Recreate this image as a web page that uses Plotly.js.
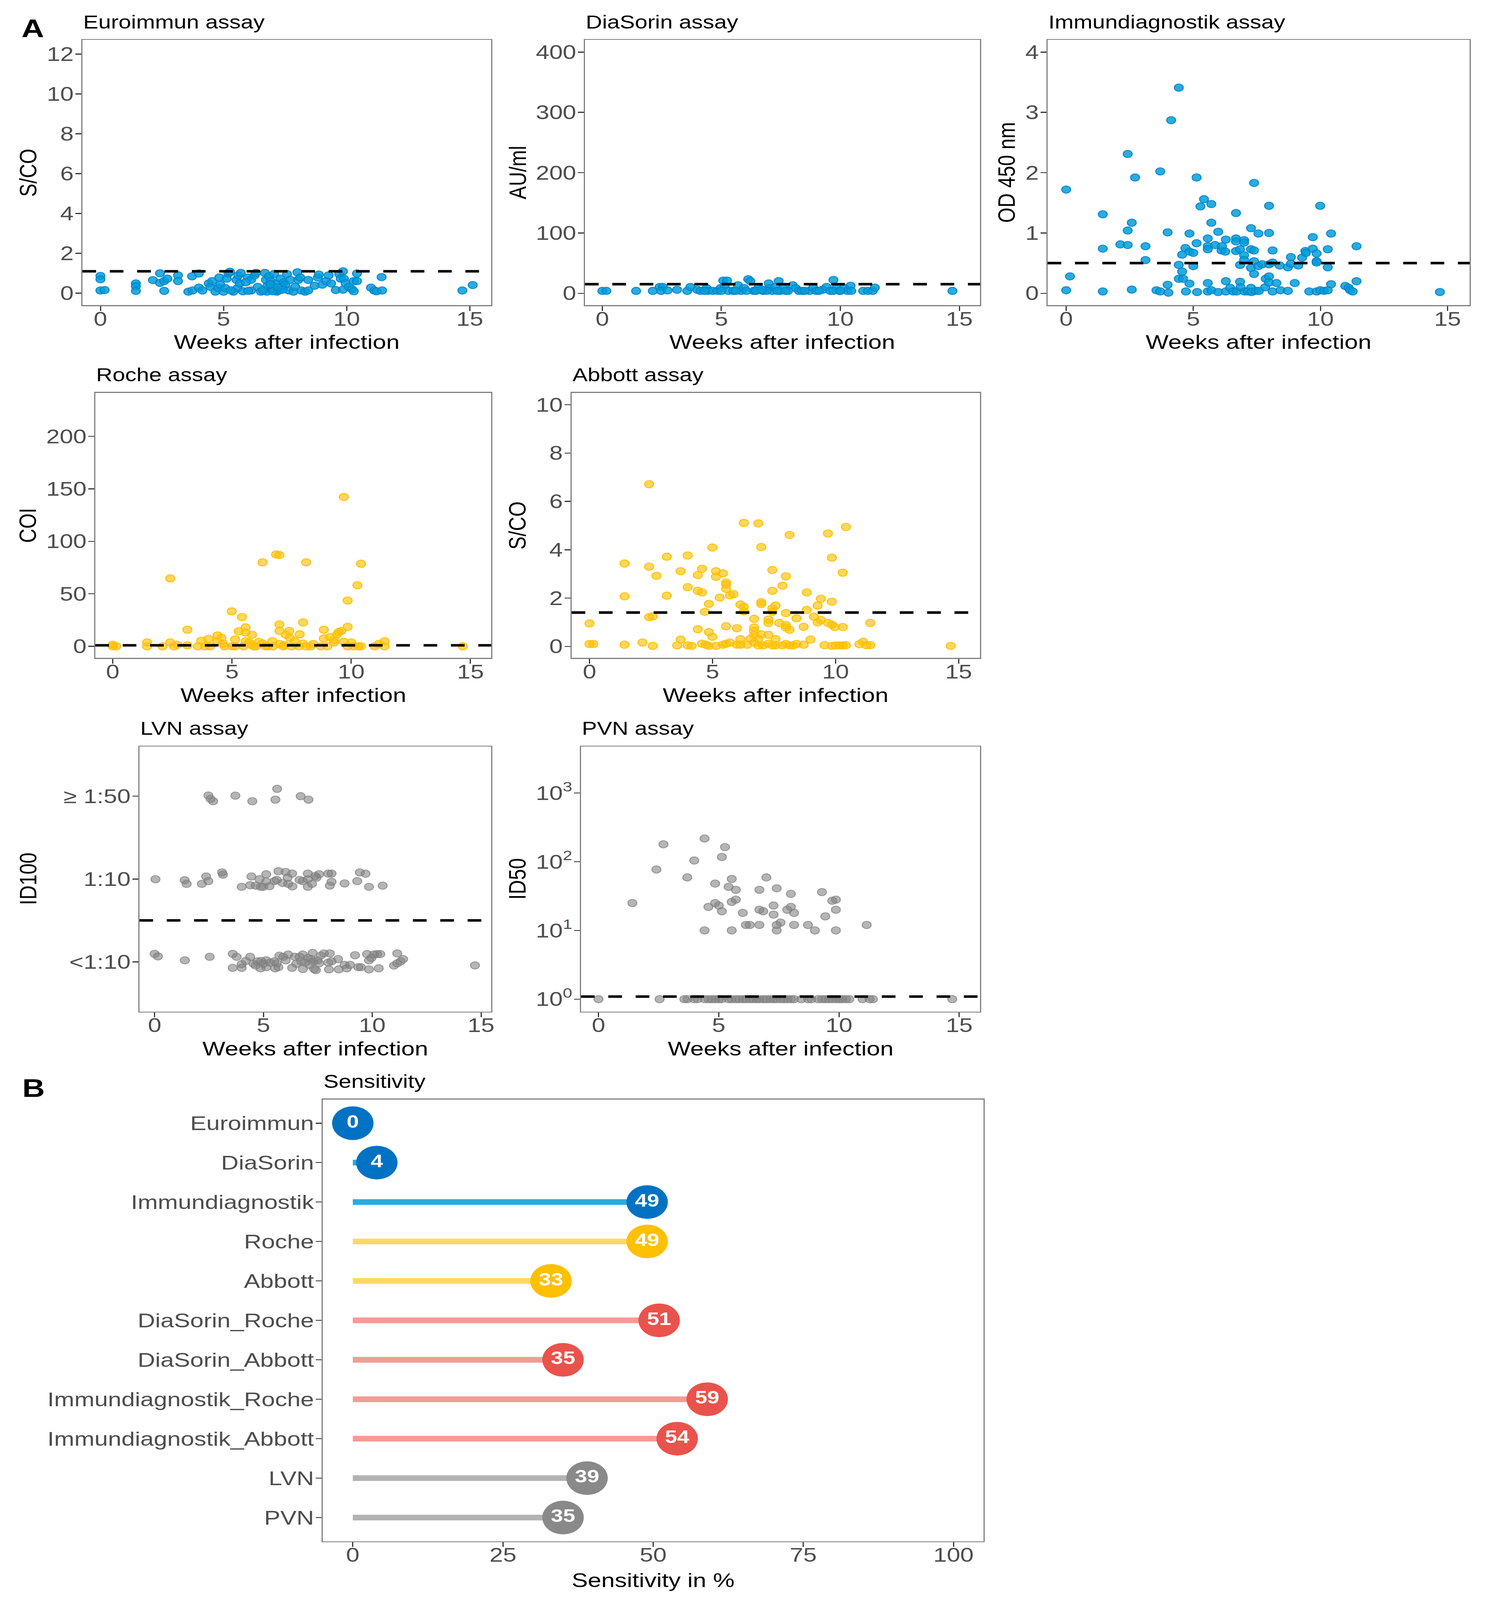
<!DOCTYPE html>
<html><head><meta charset="utf-8">
<script src="https://cdn.plot.ly/plotly-3.0.1.min.js"></script>
<style>html,body{margin:0;padding:0;background:#fff;overflow:hidden}</style>
</head><body><div id="chart" style="width:3808px;height:5036px"></div>
<script>
// ---------------- DATA ----------------
const weekTicks = [0, 5, 10, 15];

const euroWeeks = [0,0,0,0.17,1.44,1.44,1.44,2.13,2.42,2.42,
 2.59,2.72,2.59,3.15,3.15,3.57,3.72,3.74,4.0,4.0,
 4.14,4.4,4.47,4.54,4.67,4.78,4.83,4.87,5.0,5.07,
 5.13,5.2,5.26,5.4,5.53,5.57,5.6,5.66,5.7,5.79,
 5.99,6.12,6.12,6.26,6.32,6.39,6.52,6.68,6.72,6.76,
 6.79,6.85,6.92,6.98,7.05,7.12,7.16,7.25,7.31,7.38,
 7.45,7.51,7.58,7.65,7.71,7.84,7.91,8.0,8.04,8.11,
 8.17,8.31,8.44,8.44,8.7,8.83,8.87,9.01,9.17,9.27,
 9.37,9.56,9.7,9.76,9.85,9.85,9.89,9.96,10.09,10.22,
 10.29,10.29,10.42,10.42,10.99,11.12,11.22,11.42,11.44,14.7,15.12,
 5.3,6.0,6.6,7.0,7.4,5.9,6.9,7.2];
const euroValues = [0.87,0.7,0.14,0.16,0.49,0.35,0.12,0.66,1.0,0.52,
 0.61,0.73,0.12,0.9,0.61,0.08,0.85,0.14,0.99,0.28,
 0.14,0.49,0.32,0.61,0.08,0.26,0.79,0.43,0.08,0.26,
 0.73,0.99,1.08,0.08,0.67,0.26,0.9,0.49,1.02,0.1,
 0.79,0.67,0.14,0.9,1.02,0.32,0.08,1.02,0.67,0.08,
 0.38,0.85,0.61,0.2,0.96,0.49,0.08,0.14,0.73,0.32,
 0.55,0.43,0.96,0.14,0.67,0.08,0.32,1.05,0.67,0.79,
 0.14,0.08,0.14,0.67,0.38,0.79,0.94,0.43,0.61,0.9,
 0.49,0.16,0.96,0.73,1.1,0.18,0.73,0.49,0.32,0.2,
 0.1,0.61,0.99,0.61,0.28,0.14,0.1,0.81,0.14,0.14,0.41,
 0.15,0.12,0.15,0.1,0.18,0.55,0.45,0.3];
const euroCutoff = 1.1;

const diaWeeks = [0,0.17,1.42,2.12,2.41,2.54,2.47,2.74,3.14,3.57,
 3.7,3.99,4.12,4.38,4.45,4.64,4.84,4.97,5.08,5.24,
 5.14,5.3,5.5,5.7,5.83,5.96,6.13,6.22,6.36,6.55,
 6.75,6.99,7.01,7.14,7.28,7.41,7.47,7.61,7.8,8.0,
 8.13,8.26,8.39,8.7,8.86,8.99,9.25,9.42,9.58,9.71,
 9.84,9.97,10.17,10.3,10.43,10.46,10.96,11.16,11.36,11.45,
 14.71,5.6,6.05,6.45,6.9,7.35,7.7,8.5,9.1,9.7,
 4.3,5.0,10.0,6.7];
const diaValues = [3.9,3.9,3.9,3.9,10.5,10.5,3.9,4.7,5.8,3.9,
 10.5,5.8,3.9,8.5,3.9,3.9,3.9,8.5,21,21,
 12.4,3.9,3.9,13.2,3.9,8.5,23.3,20.2,3.9,8.5,
 3.9,16.3,8.5,3.9,10.5,20.2,3.9,8.5,3.9,13.2,
 8.5,3.9,3.9,3.9,9.3,3.9,5.8,10.5,3.9,22.1,
 8.5,3.9,8.5,3.9,12.4,3.9,3.9,3.9,3.9,9.3,
 3.9,3.9,3.9,3.9,3.9,3.9,3.9,3.9,3.9,3.9,
 3.9,3.9,3.9,6.0];
const diaCutoff = 15;

const immWeeks = [0,0,0.15,1.44,1.44,1.44,2.13,2.42,2.42,2.42,
 2.58,2.58,2.71,3.12,3.12,3.55,3.7,3.7,3.99,3.99,
 4.02,4.13,4.43,4.43,4.43,4.56,4.56,4.6,4.69,4.71,
 4.85,4.85,4.85,5.0,5.0,5.13,5.13,5.15,5.28,5.42,
 5.57,5.57,5.57,5.57,5.57,5.71,5.71,5.71,5.86,5.98,
 5.98,6.11,6.13,6.26,6.28,6.28,6.28,6.45,6.57,6.68,
 6.68,6.68,6.68,6.7,6.84,6.84,6.84,6.86,7.0,7.0,
 7.0,7.0,7.02,7.14,7.27,7.27,7.27,7.27,7.29,7.39,
 7.39,7.39,7.39,7.46,7.56,7.56,7.58,7.71,7.83,7.85,
 7.98,7.98,7.98,7.98,7.98,8.12,8.12,8.12,8.27,8.4,
 8.43,8.72,8.72,8.84,8.84,8.99,9.13,9.28,9.41,9.43,
 9.56,9.7,9.7,9.85,9.85,9.85,9.85,9.99,9.99,10.14,
 10.29,10.29,10.29,10.42,10.42,10.98,11.11,11.17,11.27,11.42,
 11.42,14.7];
const immValues = [1.72,0.05,0.28,1.31,0.74,0.03,0.81,2.31,1.04,0.8,
 1.17,0.06,1.92,0.78,0.55,0.05,2.02,0.03,1.01,0.14,
 0.01,2.87,3.41,0.47,0.24,0.36,0.64,0.24,0.75,0.03,
 0.99,0.16,0.69,0.67,0.45,1.92,0.83,0.02,1.44,1.56,
 0.91,0.78,0.73,0.17,0.03,1.48,1.17,0.05,0.8,1.02,
 0.02,0.71,0.78,0.69,0.89,0.2,0.03,0.09,0.03,1.33,
 0.91,0.86,0.7,0.03,0.73,0.47,0.19,0.1,0.88,0.84,
 0.63,0.55,0.03,0.03,1.08,0.73,0.42,0.09,0.02,1.83,
 0.71,0.53,0.32,0.04,0.99,0.45,0.04,0.48,0.1,0.24,
 1.45,1.0,0.48,0.28,0.18,0.71,0.51,0.03,0.17,0.46,
 0.05,0.43,0.04,0.6,0.49,0.17,0.46,0.59,0.7,0.67,
 0.03,0.93,0.74,0.66,0.53,0.51,0.03,1.45,0.05,0.04,
 0.73,0.43,0.05,0.99,0.15,0.12,0.09,0.05,0.03,0.78,
 0.2,0.02];
const immCutoff = 0.5;

const rocheWeeks = [0,0,0.15,1.44,1.44,2.09,2.41,2.41,2.57,2.71,
 3.13,3.13,3.57,3.71,3.87,4.01,4.08,4.39,4.39,4.56,
 4.62,4.69,4.99,5.0,5.13,5.13,5.28,5.42,5.49,5.57,
 5.57,5.57,5.72,5.84,5.92,6.13,6.28,6.28,6.4,6.69,
 6.72,6.85,6.99,6.99,6.99,6.99,7.15,7.26,7.4,7.43,
 7.5,7.63,7.84,7.98,7.98,8.11,8.11,8.41,8.73,8.85,
 8.85,9.11,9.28,9.28,9.41,9.48,9.59,9.69,9.69,9.85,
 9.85,9.85,10.0,10.1,10.26,10.41,10.41,10.98,11.15,11.4,
 11.4,14.68,6.0,6.5,7.8,8.3,9.0,10.3,7.2,5.8];
const rocheValues = [1.5,0,0,3.7,0,0,64.7,3.7,0,1.5,
 15.8,0.9,0,5.3,0,7,0,10.3,4.8,8.1,
 2.6,0,33.3,0,6.6,0,14.3,27.9,0,18,
 13.2,4.8,3.7,11,0,4.2,80,2.6,0,4.8,
 0,87.5,87,20.8,14.7,2.2,0,11,14.7,8.1,
 0,4.8,11.4,22.8,2.6,80,0,2.2,0,15.8,
 7.5,8.8,3.7,5.9,11.4,13.6,14.7,142.3,4.4,43.6,
 18.6,0,3.7,0,58.1,78.7,0,0,2.2,4.8,
 0,0,0,0,0,0,0,0,1.2,1.5];
const rocheCutoff = 1;

const abbottWeeks = [0,0,0.15,1.42,1.42,1.42,2.15,2.42,2.42,2.42,
 2.57,2.57,2.72,3.14,3.14,3.56,3.7,3.7,3.99,3.99,
 3.99,4.15,4.4,4.4,4.4,4.57,4.57,4.57,4.69,4.73,
 4.85,4.85,4.85,4.99,4.99,5.14,5.14,5.14,5.29,5.42,
 5.42,5.55,5.55,5.55,5.55,5.55,5.71,5.71,5.85,5.99,
 5.99,6.13,6.13,6.13,6.27,6.27,6.27,6.41,6.54,6.69,
 6.69,6.69,6.69,6.69,6.86,6.86,6.86,6.98,6.98,6.98,
 6.98,7.05,7.27,7.27,7.27,7.27,7.43,7.43,7.43,7.43,
 7.43,7.56,7.56,7.56,7.71,7.84,7.84,7.98,7.98,7.98,
 7.98,7.98,8.13,8.13,8.13,8.28,8.41,8.41,8.7,8.7,
 8.83,8.83,8.98,9.12,9.27,9.27,9.4,9.4,9.55,9.69,
 9.69,9.85,9.85,9.85,9.85,9.97,10.0,10.17,10.29,10.29,
 10.29,10.42,10.42,10.97,11.12,11.25,11.41,11.41,14.68];
const abbottValues = [0.95,0.1,0.1,3.43,2.07,0.07,0.16,6.71,3.3,1.21,
 1.24,0.02,2.92,3.71,2.1,0.04,3.11,0.28,3.76,2.45,
 0.04,0.02,2.95,2.3,0.71,3.21,2.23,0.11,1.43,0.07,
 1.76,0.59,0.02,4.09,0.4,3.11,2.88,0.02,2.02,3.02,
 0.07,2.64,2.56,2.38,0.83,0.11,2.11,0.16,2.16,0.75,
 0.07,1.73,0.3,0.07,5.11,1.64,1.45,0.07,0.32,1.14,
 0.78,0.64,0.48,0.16,5.09,0.3,0.04,4.11,1.83,1.75,
 0.5,0.04,1.11,0.97,0.48,0.11,3.16,2.3,1.57,1.43,
 0.04,1.69,0.3,0.04,0.97,2.51,0.04,2.9,1.38,0.88,
 0.78,0.1,4.61,0.69,0.04,0.04,1.16,0.1,0.81,0.07,
 2.23,1.51,0.28,1.23,1.69,0.99,1.97,1.09,0.05,4.67,
 0.97,3.67,1.85,0.9,0.02,0.8,0.04,0.04,3.05,0.8,
 0.04,4.94,0.05,0.09,0.19,0.05,0.97,0.05,0.02];
const abbottCutoff = 1.4;

// LVN: ordinal titre classes (0 = <1:10, 1 = 1:10, 2 = >=1:50), positions as plotted (jittered)
const lvnTickLabels = ["<1:10", "1:10", "\u2265 1:50"];
const lvnWeeks = [2.47,2.57,2.69,3.71,4.49,5.55,5.63,6.71,7.07,
 0.04,1.38,1.47,2.17,2.37,2.47,3.1,3.14,4.0,4.39,
 4.45,4.64,4.82,4.87,4.99,5.13,5.13,5.28,5.51,5.61,
 5.69,5.88,6.02,6.11,6.14,6.32,6.33,6.66,6.81,7.04,
 7.04,7.04,7.23,7.38,7.44,7.56,7.98,8.13,8.05,8.13,
 8.73,9.31,9.43,9.69,9.85,10.48,
 0,0.15,1.39,2.53,3.59,3.59,3.77,4.0,4.0,4.19,
 4.39,4.54,4.64,4.72,4.87,4.9,4.99,5.13,5.13,5.31,
 5.49,5.54,5.61,5.69,5.73,5.91,6.02,6.14,6.32,6.44,
 6.51,6.66,6.74,6.81,6.81,6.92,7.04,7.11,7.19,7.26,
 7.29,7.33,7.41,7.49,7.56,7.63,7.78,7.98,8.01,8.05,
 8.13,8.43,8.46,8.73,8.83,8.98,9.21,9.36,9.48,9.76,
 9.85,9.85,9.96,10.07,10.22,10.3,10.37,11.0,11.15,11.15,
 11.3,11.42,14.72];
const lvnValues = [2.008,1.967,1.939,2.006,1.939,1.958,2.089,2.0,1.958,
 0.997,0.986,0.942,0.942,1.03,0.975,1.08,1.053,0.906,0.925,
 1.03,0.92,0.997,0.906,0.906,1.058,0.97,0.914,0.975,0.989,
 1.094,0.953,1.086,1.017,0.942,1.066,0.911,0.989,0.975,1.066,
 0.997,0.906,0.942,1.036,1.017,1.058,1.066,1.066,0.92,0.967,
 0.947,0.975,1.08,1.064,0.906,0.92,
 0.097,0.066,0.019,0.061,0.097,-0.072,0.061,-0.028,-0.072,0.011,
 0.061,-0.022,-0.044,0.006,-0.078,0.011,-0.022,0.019,-0.064,-0.008,
 0.006,-0.078,-0.017,-0.064,0.075,0.061,0.019,0.089,-0.072,0.061,
 -0.022,0.061,0.006,0.089,-0.086,-0.008,0.047,-0.036,0.033,0.108,
 0.006,-0.086,-0.1,0.019,-0.017,0.075,0.102,-0.008,-0.091,0.102,
 0.006,0.033,-0.091,-0.036,-0.078,-0.036,0.08,-0.064,-0.064,0.094,
 0.019,-0.091,0.047,0.089,0.094,-0.078,0.094,-0.044,0.102,-0.017,
 0.006,0.033,-0.042];
const lvnCutoff = 0.5;

const pvnWeeks = [1.41,2.41,2.7,3.69,3.98,4.41,4.41,4.57,4.85,4.85,
 5.0,5.13,5.13,5.26,5.41,5.54,5.54,5.54,5.71,5.71,
 6.0,6.13,6.29,6.69,6.69,6.69,6.85,6.98,7.28,7.28,
 7.41,7.41,7.41,7.57,7.85,8.0,8.0,8.13,8.13,8.71,
 9.0,9.29,9.43,9.72,9.87,9.87,9.87,11.15,
 0,2.54,14.71,3.57,3.7,3.98,4.12,4.41,4.57,4.71,
 4.85,5.0,5.13,5.41,5.54,5.71,5.85,6.0,6.13,6.29,
 6.43,6.57,6.69,6.85,6.98,7.13,7.28,7.41,7.57,7.71,
 7.85,8.0,8.13,8.43,8.71,8.85,9.13,9.29,9.43,9.57,
 9.72,9.87,10.0,10.13,10.29,10.43,10.98,11.27,11.41];
const pvnValues = [25,77,179,59,104,217,10,22,48,25,
 23,117,19,163,43,56,26,10,39,28,
 18,12,12,39,20,12,19,59,23,17,
 41,12,10,13,20,34,22,18,12,12,
 10,36,16,27,28,20,10,12,
 1,1,1,1,1,1,1,1,1,1,
 1,1,1,1,1,1,1,1,1,1,
 1,1,1,1,1,1,1,1,1,1,
 1,1,1,1,1,1,1,1,1,1,
 1,1,1,1,1,1,1,1,1];
const pvnCutoff = 1.09;
const pvnTickValues = [1, 10, 100, 1000];
const pvnTickLabels = ["10<sup>0</sup>", "10<sup>1</sup>", "10<sup>2</sup>", "10<sup>3</sup>"];

const sensCategories = ["Euroimmun","DiaSorin","Immundiagnostik","Roche","Abbott","DiaSorin_Roche","DiaSorin_Abbott","Immundiagnostik_Roche","Immundiagnostik_Abbott","LVN","PVN"];
const sensValues = [0, 4, 49, 49, 33, 51, 35, 59, 54, 39, 35];
const sensGroups = ["spike","spike","spike","nucleocapsid","nucleocapsid","combined","combined","combined","combined","neutralization","neutralization"];
const sensTicks = [0, 25, 50, 75, 100];

// ---------------- STYLE ----------------
const W = 3808, H = 5036;
const FONT = "Liberation Sans, Arial, sans-serif";
const px = v => v / W;
const py = v => 1 - v / H;

const BLUE = {fill: "rgba(0,156,216,0.84)", line: "rgba(0,128,204,0.9)"};
const YELLOW = {fill: "rgba(255,192,0,0.64)", line: "rgba(255,192,0,1)"};
const GRAY = {fill: "rgba(128,128,128,0.58)", line: "rgba(128,128,128,0.75)"};
const groupLine = {spike: "#29ABDD", nucleocapsid: "#FFD95C", combined: "#F59B96", neutralization: "#B3B3B3"};
const groupDot = {spike: "#0072C4", nucleocapsid: "#FFC000", combined: "#EA534B", neutralization: "#898989"};

// panel boxes in pixels [left, right, top, bottom]
const boxes = {
  1: [211, 1257, 126, 960.6],
  2: [1497, 2508, 126, 960.6],
  3: [2681, 3761, 126, 960.6],
  4: [244, 1257, 1236.6, 2071],
  5: [1462.7, 2508, 1236.6, 2071],
  6: [356.7, 1256.7, 2349.5, 3184],
  7: [1486.7, 2508.4, 2349.5, 3184],
  8: [826, 2517, 3460.7, 4851]
};
const XR = [-0.73, 15.87];
const XR_LVN = [-0.70, 15.46];

function axis(n, dir, extra) {
  const b = boxes[n];
  const a = {
    domain: dir === 'x' ? [px(b[0]), px(b[1])] : [py(b[3]), py(b[2])],
    anchor: (dir === 'x' ? 'y' : 'x') + (n === 1 ? '' : n),
    showline: true, mirror: true, linecolor: '#7F7F7F', linewidth: 3,
    ticks: 'outside', ticklen: 15, tickwidth: 3, tickcolor: '#333333',
    tickfont: {family: FONT, size: 62, color: '#4D4D4D'},
    showgrid: false, zeroline: false, fixedrange: true,
    ticklabelstandoff: dir === 'x' ? -28 : -8
  };
  return Object.assign(a, extra);
}

function pts(x, y, n, c) {
  const s = n === 1 ? '' : String(n);
  return {type: 'scatter', mode: 'markers', x: x, y: y, xaxis: 'x' + s, yaxis: 'y' + s,
    marker: {size: 23, color: c.fill, line: {color: c.line, width: 2.5}},
    hoverinfo: 'skip', showlegend: false, cliponaxis: false};
}
function cut(v, n, xr) {
  const s = n === 1 ? '' : String(n);
  return {type: 'scatter', mode: 'lines', x: [xr[0], xr[1]], y: [v, v], xaxis: 'x' + s, yaxis: 'y' + s,
    line: {color: '#000000', width: 8, dash: '35px,35px'}, hoverinfo: 'skip', showlegend: false};
}

const traces = [
  pts(euroWeeks, euroValues, 1, BLUE), cut(euroCutoff, 1, XR),
  pts(diaWeeks, diaValues, 2, BLUE), cut(diaCutoff, 2, XR),
  pts(immWeeks, immValues, 3, BLUE), cut(immCutoff, 3, XR),
  pts(rocheWeeks, rocheValues, 4, YELLOW), cut(rocheCutoff, 4, XR),
  pts(abbottWeeks, abbottValues, 5, YELLOW), cut(abbottCutoff, 5, XR),
  pts(lvnWeeks, lvnValues, 6, GRAY), cut(lvnCutoff, 6, XR_LVN),
  pts(pvnWeeks, pvnValues, 7, GRAY), cut(pvnCutoff, 7, XR)
];

// lollipop segments per group
Object.keys(groupLine).forEach(g => {
  const xs = [], ys = [];
  sensCategories.forEach((c, i) => {
    if (sensGroups[i] === g) { xs.push(0, sensValues[i], null); ys.push(c, c, null); }
  });
  traces.push({type: 'scatter', mode: 'lines', x: xs, y: ys, xaxis: 'x8', yaxis: 'y8',
    line: {color: groupLine[g], width: 18}, hoverinfo: 'skip', showlegend: false});
});
traces.push({type: 'scatter', mode: 'markers+text', x: sensValues, y: sensCategories,
  xaxis: 'x8', yaxis: 'y8', text: sensValues.map(v => '<b>' + v + '</b>'),
  textposition: 'middle center', textfont: {family: FONT, size: 56, color: '#FFFFFF'},
  marker: {size: 106, color: sensGroups.map(g => groupDot[g]), line: {width: 0}},
  hoverinfo: 'skip', showlegend: false, cliponaxis: false});

const layout = {
  width: W, height: H, margin: {l: 0, r: 0, t: 0, b: 0},
  paper_bgcolor: '#FFFFFF', plot_bgcolor: '#FFFFFF', showlegend: false,
  font: {family: FONT, color: '#000000'},
  xaxis: axis(1, 'x', {range: XR, tickvals: weekTicks}),
  yaxis: axis(1, 'y', {range: [-0.6, 12.71], tickvals: [0,2,4,6,8,10,12]}),
  xaxis2: axis(2, 'x', {range: XR, tickvals: weekTicks}),
  yaxis2: axis(2, 'y', {range: [-19.8, 420], tickvals: [0,100,200,300,400]}),
  xaxis3: axis(3, 'x', {range: XR, tickvals: weekTicks}),
  yaxis3: axis(3, 'y', {range: [-0.198, 4.2], tickvals: [0,1,2,3,4]}),
  xaxis4: axis(4, 'x', {range: XR, tickvals: weekTicks}),
  yaxis4: axis(4, 'y', {range: [-11.1, 241.4], tickvals: [0,50,100,150,200]}),
  xaxis5: axis(5, 'x', {range: XR, tickvals: weekTicks}),
  yaxis5: axis(5, 'y', {range: [-0.48, 10.49], tickvals: [0,2,4,6,8,10]}),
  xaxis6: axis(6, 'x', {range: XR_LVN, tickvals: weekTicks}),
  yaxis6: axis(6, 'y', {range: [-0.6, 2.6], tickvals: [0,1,2], ticktext: lvnTickLabels}),
  xaxis7: axis(7, 'x', {range: XR, tickvals: weekTicks}),
  yaxis7: axis(7, 'y', {type: 'log', range: [-0.181, 3.676], tickvals: pvnTickValues, ticktext: pvnTickLabels}),
  xaxis8: axis(8, 'x', {range: [-5, 105], tickvals: sensTicks}),
  yaxis8: axis(8, 'y', {type: 'category', categoryorder: 'array', categoryarray: sensCategories, range: [10.6, -0.6]}),
  annotations: []
};

const ann = layout.annotations;
function txt(text, x, y, size, opts) {
  ann.push(Object.assign({text: text, x: px(x), y: py(y), xref: 'paper', yref: 'paper', showarrow: false,
    font: {family: FONT, size: size, color: '#000000'}, xanchor: 'center', yanchor: 'middle'}, opts || {}));
}
// panel letters
txt('<b>A</b>', 84, 90, 80);
txt('<b>B</b>', 86, 3424, 80);
// panel titles
const titles = [[1,'Euroimmun assay'],[2,'DiaSorin assay'],[3,'Immundiagnostik assay'],[4,'Roche assay'],
  [5,'Abbott assay'],[6,'LVN assay'],[7,'PVN assay'],[8,'Sensitivity']];
titles.forEach(([n, t]) => txt(t, boxes[n][0], boxes[n][2] - 57, 58, {xanchor: 'left'}));
// x axis titles
[1,2,3,4,5,6,7].forEach(n => {
  const b = boxes[n];
  txt('Weeks after infection', (b[0] + b[1]) / 2, b[3] + 116, 62);
});
txt('Sensitivity in %', (boxes[8][0] + boxes[8][1]) / 2, 4974, 62);
// y axis titles
const ytitles = [[1,'S/CO',71],[2,'AU/ml',1324],[3,'OD 450 nm',2575],[4,'COI',71],[5,'S/CO',1324],[6,'ID100',72],[7,'ID50',1324]];
ytitles.forEach(([n, t, x]) => {
  const b = boxes[n];
  txt(t, x, (b[2] + b[3]) / 2, 62, {textangle: -90});
});

Plotly.newPlot('chart', traces, layout, {staticPlot: true, displayModeBar: false}).then(() => {
  // the photographed viewport may be shorter than the 5036 px figure: fit the whole figure into it
  const vh = window.innerHeight || H;
  const vw = window.innerWidth || W;
  const sy = Math.min(1, vh / H), sx = Math.min(1, vw / W);
  if (sy < 1 || sx < 1) {
    const el = document.getElementById('chart');
    el.style.transformOrigin = '0 0';
    el.style.transform = 'scale(' + sx + ',' + sy + ')';
  }
});
</script>
</body></html>
